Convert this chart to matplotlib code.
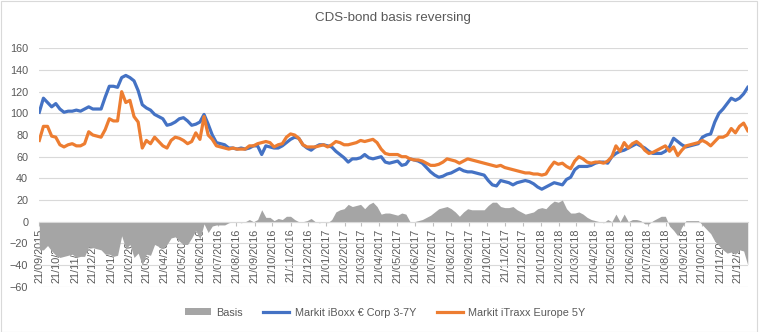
import matplotlib

matplotlib.use("Agg")

import matplotlib.dates as mdates
import matplotlib.pyplot as plt
import numpy as np
import pandas as pd
from matplotlib.lines import Line2D
from matplotlib.patches import Patch, Rectangle

TITLE = "CDS-bond basis reversing"
START_DATE = "2015-09-21"
BASIS_LABEL = "Basis"
IBOXX_LABEL = "Markit iBoxx € Corp 3-7Y"
ITRAXX_LABEL = "Markit iTraxx Europe 5Y"

# weekly readings, bp
IBOXX = [
    101, 114, 110, 106, 109, 104, 101, 102, 102, 103,
    102, 104, 106, 104, 104, 104, 115, 125, 125, 124,
    133, 135, 133, 130, 121, 108, 105, 103, 99, 97,
    95, 89, 90, 92, 95, 96, 93, 89, 90, 92,
    99, 90, 80, 73, 72, 71, 68, 68, 67, 68,
    67, 68, 70, 70, 62, 70, 69, 68, 68, 70,
    73, 76, 78, 77, 71, 68, 66, 69, 71, 71,
    70, 69, 65, 62, 59, 55, 58, 58, 59, 62,
    59, 58, 59, 60, 55, 54, 55, 56, 52, 53,
    58, 57, 56, 54, 50, 46, 43, 41, 42, 44,
    45, 47, 49, 47, 46, 46, 45, 44, 43, 38,
    34, 33, 38, 37, 36, 34, 36, 37, 38, 37,
    35, 32, 30, 32, 34, 36, 35, 34, 39, 41,
    48, 51, 51, 51, 52, 54, 55, 55, 54, 60,
    63, 65, 66, 68, 70, 72, 70, 68, 65, 63,
    63, 63, 65, 69, 77, 74, 71, 69, 70, 71,
    72, 78, 80, 81, 92, 100, 104, 109, 114, 112,
    114, 118, 124,
]

ITRAXX = [
    75, 88, 88, 79, 78, 71, 69, 71, 72, 70,
    70, 72, 83, 80, 79, 78, 85, 95, 93, 93,
    120, 110, 112, 97, 92, 68, 75, 72, 78, 74,
    70, 68, 75, 78, 77, 75, 72, 74, 82, 76,
    97, 80, 76, 70, 69, 68, 67, 68, 67, 67,
    67, 70, 70, 72, 73, 74, 73, 69, 71, 72,
    78, 81, 80, 77, 71, 69, 69, 69, 70, 71,
    69, 71, 74, 73, 71, 71, 72, 73, 75, 74,
    75, 76, 73, 67, 63, 62, 62, 62, 60, 60,
    58, 57, 57, 56, 54, 52, 52, 53, 55, 58,
    57, 56, 54, 56, 58, 57, 56, 55, 54, 53,
    52, 51, 52, 50, 49, 48, 47, 46, 45, 45,
    44, 44, 43, 44, 50, 55, 53, 54, 51, 49,
    56, 60, 58, 55, 54, 55, 55, 54, 56, 60,
    70, 65, 73, 68, 72, 74, 71, 66, 63, 64,
    66, 68, 70, 65, 69, 61, 66, 70, 71, 72,
    73, 75, 73, 70, 74, 78, 78, 80, 86, 82,
    88, 91, 84,
]

Y_TICKS = list(range(-60, 161, 20))

BLUE = "#4472C4"
ORANGE = "#ED7D31"
GREY = "#A5A5A5"
TEXT = "#595959"
GRID = "#D9D9D9"


def main():
    plt.rcParams["font.family"] = ["Liberation Sans", "DejaVu Sans"]

    dates = pd.date_range(START_DATE, periods=len(IBOXX), freq="7D")
    iboxx = np.array(IBOXX, dtype=float)
    itraxx = np.array(ITRAXX, dtype=float)
    basis = itraxx - iboxx  # CDS minus bond

    fig = plt.figure(figsize=(7.63, 3.32), dpi=100)
    ax = fig.add_axes([0.0515, 0.1364, 0.9285, 0.718])

    ax.fill_between(dates, basis, 0, color=GREY, linewidth=0, zorder=1)
    ax.plot(dates, iboxx, color=BLUE, linewidth=2.3, zorder=3)
    ax.plot(dates, itraxx, color=ORANGE, linewidth=2.3, zorder=4)

    ax.set_xlim(dates[0], dates[-1])
    ax.set_ylim(-60, 160)
    ax.set_yticks(Y_TICKS)
    ax.grid(axis="y", color=GRID, linewidth=0.8, zorder=0)
    ax.set_axisbelow(True)

    for side in ("left", "right", "top"):
        ax.spines[side].set_visible(False)
    ax.spines["bottom"].set_position(("data", 0))
    ax.spines["bottom"].set_color(GRID)
    ax.spines["bottom"].set_zorder(2)

    ax.xaxis.set_major_locator(mdates.MonthLocator(bymonthday=21))
    ax.xaxis.set_major_formatter(mdates.DateFormatter("%d/%m/%Y"))
    ax.tick_params(axis="x", length=3, color="#BFBFBF", pad=2,
                   labelrotation=90, labelsize=7.8, labelcolor=TEXT)
    ax.tick_params(axis="y", length=0, pad=8, labelsize=7.8, labelcolor=TEXT)

    fig.text(0.515, 1 - 18 / 332, TITLE, ha="center", va="center",
             fontsize=9.6, color=TEXT)

    handles = [
        Patch(facecolor=GREY, edgecolor="none", label=BASIS_LABEL),
        Line2D([], [], color=BLUE, linewidth=2.3, label=IBOXX_LABEL),
        Line2D([], [], color=ORANGE, linewidth=2.3, label=ITRAXX_LABEL),
    ]
    leg = fig.legend(handles=handles, loc="center",
                     bbox_to_anchor=(0.5046, 1 - 312.5 / 332), ncol=3,
                     frameon=False, fontsize=7.8, handlelength=2.4,
                     handleheight=0.6, handletextpad=0.5, columnspacing=1.9)
    for t in leg.get_texts():
        t.set_color(TEXT)

    fig.patches.append(Rectangle((0.5 / 763, 0.5 / 332), 756.5 / 763, 331 / 332,
                                 transform=fig.transFigure, fill=False,
                                 edgecolor=GRID, linewidth=0.8))

    fig.savefig("out.png", dpi=100)
    plt.close(fig)


if __name__ == "__main__":
    main()
